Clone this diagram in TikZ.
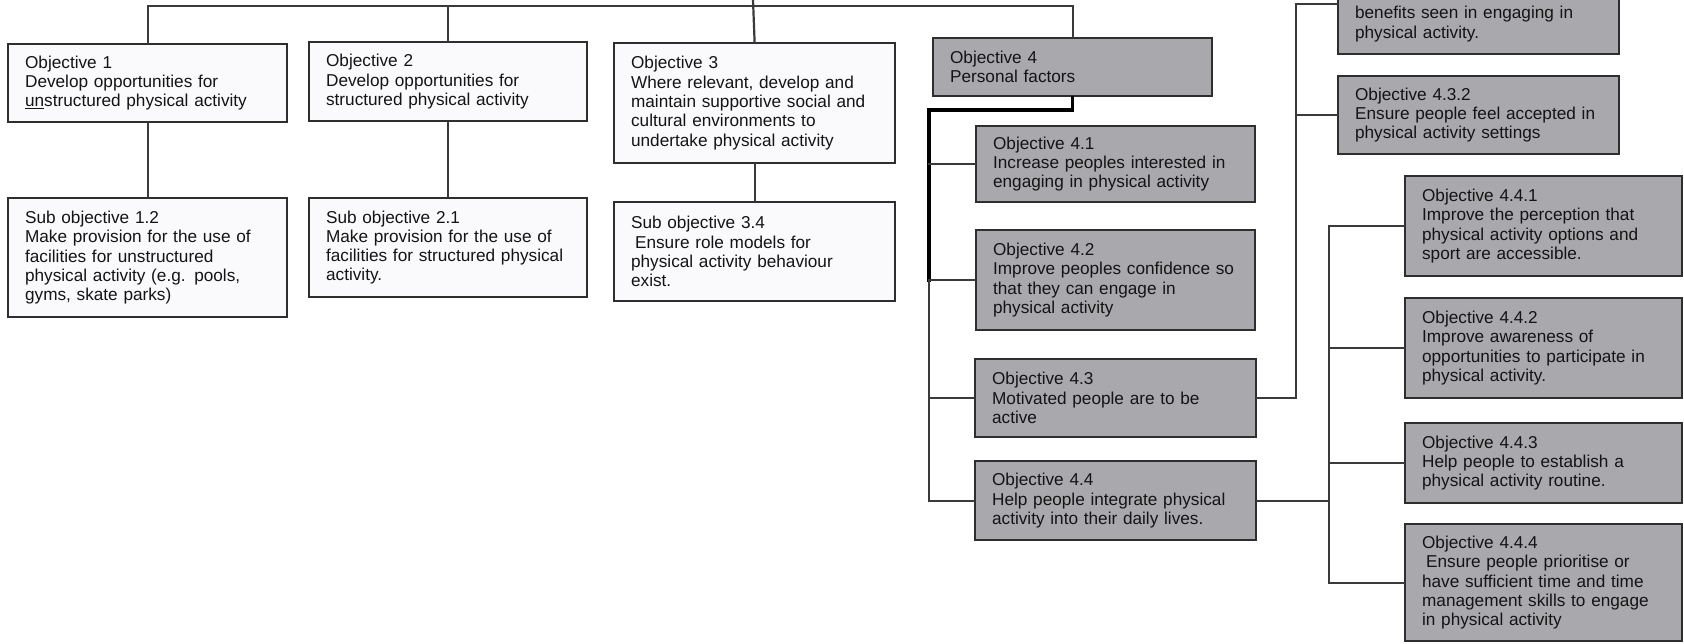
\documentclass[tikz,border=0pt]{standalone}
\usepackage{fontspec}
\setmainfont{Liberation Sans}
\definecolor{whitefill}{HTML}{FAF9FC}
\definecolor{grayfill}{HTML}{A9A8AD}
\definecolor{bordercol}{HTML}{2E2E2E}
\definecolor{linecol}{HTML}{3A3A3A}
\definecolor{textcol}{HTML}{141414}
\begin{document}
\begin{tikzpicture}[x=1pt,y=-1pt,
  box/.style={draw=bordercol, line width=2.2pt, anchor=north west, inner xsep=17pt, inner ysep=0pt,
    align=left, font=\fontsize{17.2}{19.3}\selectfont, text=textcol},
  wbox/.style={box, fill=whitefill},
  gbox/.style={box, fill=grayfill},
  conn/.style={draw=linecol, line width=2.2pt, line cap=rect},
  heavy/.style={draw=black, line width=3.2pt, line cap=rect}
]
\useasboundingbox (0,0) rectangle (1684,644);
\clip (0,0) rectangle (1684,644);

% level 1
\node[wbox, minimum width=279pt, minimum height=78pt, text width=245pt] (o1) at (7,43)
  {Objective 1\\Develop opportunities for\\\underline{un}structured physical activity};
\node[wbox, minimum width=278pt, minimum height=79pt, text width=244pt] (o2) at (308,41)
  {Objective 2\\Develop opportunities for\\structured physical activity};
\node[wbox, minimum width=281pt, minimum height=120pt, text width=247pt] (o3) at (613,42)
  {Objective 3\\Where relevant, develop and\\maintain supportive social and\\cultural environments to\\undertake physical activity};
\node[gbox, minimum width=279pt, minimum height=58pt, text width=245pt] (o4) at (932,37)
  {Objective 4\\Personal factors};

% sub objectives
\node[wbox, minimum width=279pt, minimum height=119pt, text width=245pt] (s12) at (7,197)
  {Sub objective 1.2\\Make provision for the use of\\facilities for unstructured\\physical activity (e.g. pools,\\gyms, skate parks)};
\node[wbox, minimum width=278pt, minimum height=99pt, text width=244pt] (s21) at (308,197)
  {Sub objective 2.1\\Make provision for the use of\\facilities for structured physical\\activity.};
\node[wbox, minimum width=281pt, minimum height=99pt, text width=247pt] (s34) at (613,201)
  {Sub objective 3.4\\\hspace*{4pt}Ensure role models for\\physical activity behaviour\\exist.};

% objective 4 children
\node[gbox, minimum width=279pt, minimum height=76pt, text width=245pt] (o41) at (975,125)
  {Objective 4.1\\Increase peoples interested in\\engaging in physical activity};
\node[gbox, minimum width=279pt, minimum height=100pt, text width=245pt] (o42) at (975,229)
  {Objective 4.2\\Improve peoples confidence so\\that they can engage in\\physical activity};
\node[gbox, minimum width=281pt, minimum height=78pt, text width=247pt] (o43) at (974,358)
  {Objective 4.3\\Motivated people are to be\\active};
\node[gbox, minimum width=281pt, minimum height=79pt, text width=247pt] (o44) at (974,460)
  {Objective 4.4\\Help people integrate physical\\activity into their daily lives.};

% objective 4.3 children
\node[gbox, minimum width=281pt, minimum height=60pt, text width=247pt] (o431) at (1337,-7)
  {benefits seen in engaging in\\physical activity.};
\node[gbox, minimum width=281pt, minimum height=78pt, text width=247pt] (o432) at (1337,75)
  {Objective 4.3.2\\Ensure people feel accepted in\\physical activity settings};

% objective 4.4 children
\node[gbox, minimum width=277pt, minimum height=100pt, text width=243pt] (o441) at (1404,175)
  {Objective 4.4.1\\Improve the perception that\\physical activity options and\\sport are accessible.};
\node[gbox, minimum width=277pt, minimum height=100pt, text width=243pt] (o442) at (1404,297)
  {Objective 4.4.2\\Improve awareness of\\opportunities to participate in\\physical activity.};
\node[gbox, minimum width=277pt, minimum height=80pt, text width=243pt] (o443) at (1404,422)
  {Objective 4.4.3\\Help people to establish a\\physical activity routine.};
\node[gbox, minimum width=277pt, minimum height=117pt, text width=243pt] (o444) at (1404,523)
  {Objective 4.4.4\\\hspace*{4pt}Ensure people prioritise or\\have sufficient time and time\\management skills to engage\\in physical activity};

% connectors: top level
\coordinate (root) at (753,0);
\coordinate (bus) at (753,6);
\draw[conn] (o1.north) -- (o1.north |- bus) -- (o4.north |- bus) -- (o4.north);
\draw[conn] (o2.north) -- (o2.north |- bus);
\draw[conn] (root) -- (o3.north);
\draw[conn] (o1.south) -- (s12.north);
\draw[conn] (o2.south) -- (s21.north);
\draw[conn] (o3.south) -- (s34.north);

% objective 4 tree
\coordinate (t4) at (929,110);
\draw[heavy] (o4.south) |- (t4) -- (t4 |- o42.west);
\draw[conn] (t4 |- o42.west) -- (t4 |- o44.west) -- (o44.west);
\draw[conn] (t4 |- o41.west) -- (o41.west);
\draw[conn] (t4 |- o42.west) -- (o42.west);
\draw[conn] (t4 |- o43.west) -- (o43.west);

% objective 4.3 tree
\coordinate (t43) at (1296,4);
\draw[conn] (o43.east) -| (t43) -- (o431.west |- t43);
\draw[conn] (t43 |- o432.west) -- (o432.west);

% objective 4.4 tree
\coordinate (t44) at (1329,0);
\draw[conn] (o44.east) -- (t44 |- o44.east);
\draw[conn] (t44 |- o441.west) -- (t44 |- o444.west);
\draw[conn] (t44 |- o441.west) -- (o441.west);
\draw[conn] (t44 |- o442.west) -- (o442.west);
\draw[conn] (t44 |- o443.west) -- (o443.west);
\draw[conn] (t44 |- o444.west) -- (o444.west);
\end{tikzpicture}
\end{document}
